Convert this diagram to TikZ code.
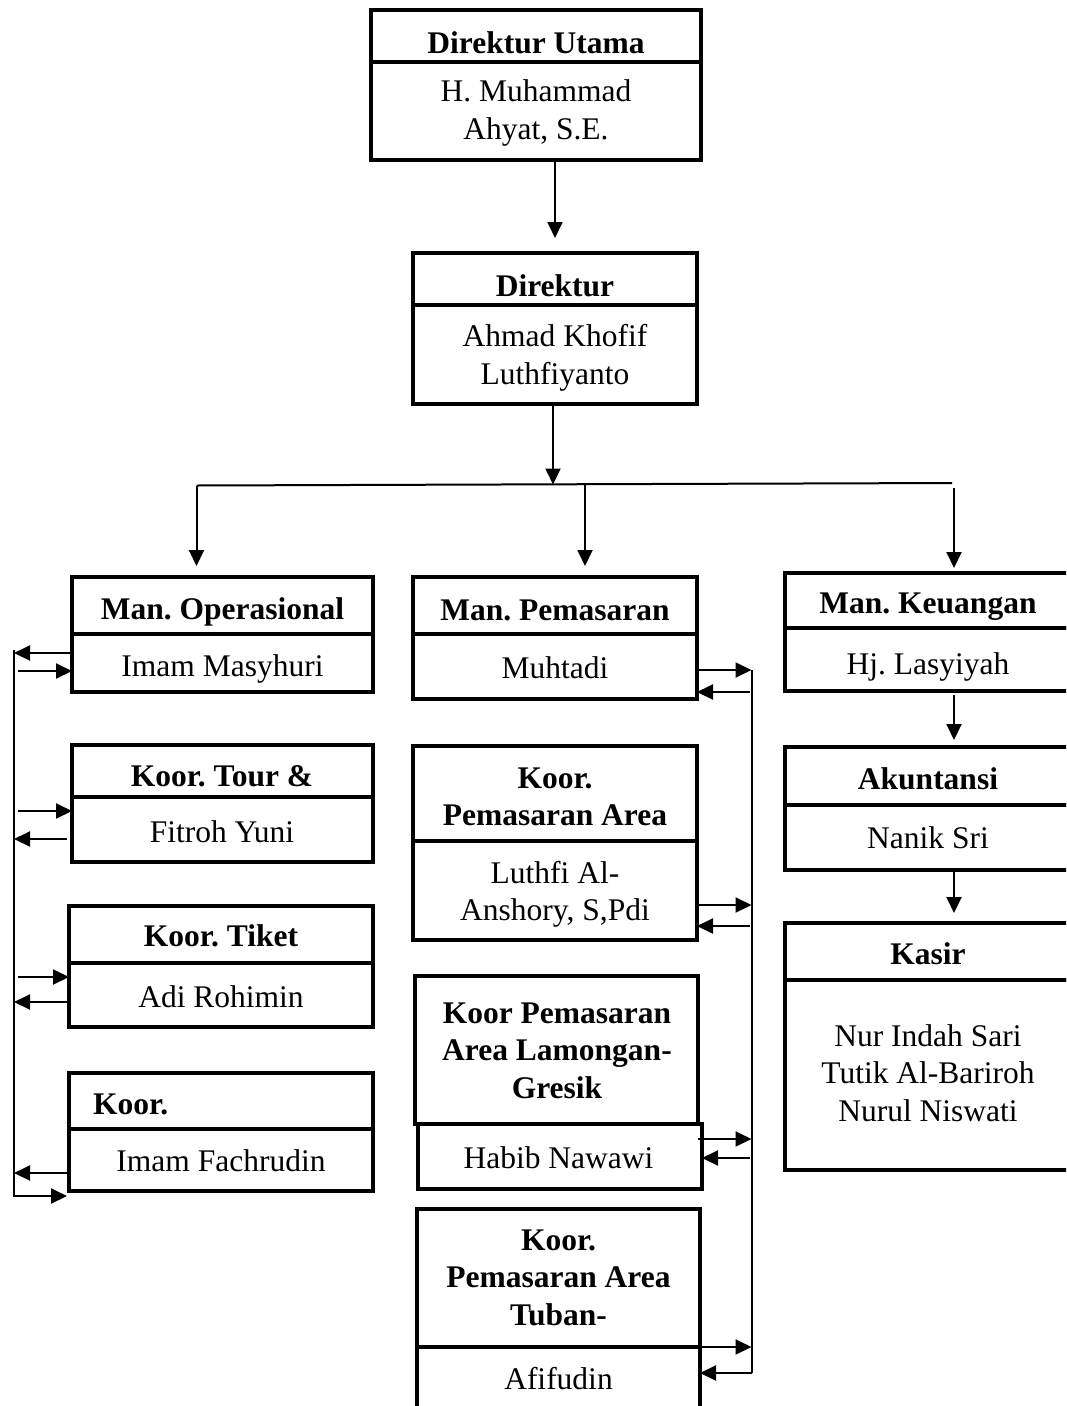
\documentclass[tikz,border=0pt]{standalone}
\usepackage{fontspec}
\setmainfont{Liberation Serif}
\usetikzlibrary{arrows.meta}
\frenchspacing
\newcommand\mlines[1]{\begin{tabular}[t]{@{}c@{}}#1\end{tabular}}
\begin{document}
\begin{tikzpicture}[x=1pt,y=-1pt,
  frame/.style={draw, line width=4pt, inner sep=0pt, outer sep=0pt, rectangle},
  ttl/.style={font=\fontsize{31.5}{37.5}\selectfont\bfseries, anchor=base, inner sep=0pt},
  nm/.style={font=\fontsize{31.5}{37.5}\selectfont, anchor=base, inner sep=0pt},
  arr/.style={line width=2pt, -{Triangle[length=16pt,width=15pt]}},
  bus/.style={line width=2pt}]
\clip (0,0) rectangle (1066,1406);
\fill[white] (0,0) rectangle (1066,1406);

% ---------- Direktur Utama
\node[frame, minimum width=330pt, minimum height=52pt] (du-t) at (536,36) {};
\node[frame, minimum width=330pt, minimum height=98pt] (du-b) at (536,111) {};
\node[ttl] (du-tt) at (536,53) {Direktur Utama};
\node[nm] (du-bt) at (536,101.7) {\mlines{H. Muhammad\\Ahyat, S.E.}};

% ---------- Direktur
\node[frame, minimum width=284pt, minimum height=52pt] (d-t) at (555,279) {};
\node[frame, minimum width=284pt, minimum height=99pt] (d-b) at (555,354.5) {};
\node[ttl] (d-tt) at (555,296) {Direktur};
\node[nm] (d-bt) at (555,346.7) {\mlines{Ahmad Khofif\\Luthfiyanto}};

% ---------- left column
\node[frame, minimum width=301pt, minimum height=57pt] (mo-t) at (222.5,605.5) {};
\node[frame, minimum width=301pt, minimum height=58pt] (mo-b) at (222.5,663) {};
\node[ttl] (mo-tt) at (222.5,619) {Man. Operasional};
\node[nm] (mo-bt) at (222.5,676) {Imam Masyhuri};

\node[frame, minimum width=301pt, minimum height=52pt] (kt-t) at (222.5,771) {};
\node[frame, minimum width=301pt, minimum height=65pt] (kt-b) at (222.5,829.5) {};
\node[ttl] (kt-tt) at (222,786) {Koor. Tour \&};
\node[nm] (kt-bt) at (222,842) {Fitroh Yuni};

\node[frame, minimum width=304pt, minimum height=57pt] (ki-t) at (221,934.5) {};
\node[frame, minimum width=304pt, minimum height=64pt] (ki-b) at (221,995) {};
\node[ttl] (ki-tt) at (221,946) {Koor. Tiket};
\node[nm] (ki-bt) at (221,1007) {Adi Rohimin};

\node[frame, minimum width=304pt, minimum height=56pt] (kf-t) at (221,1101) {};
\node[frame, minimum width=304pt, minimum height=62pt] (kf-b) at (221,1160) {};
\node[ttl, anchor=base west] (kf-tt) at (93,1114) {Koor.};
\node[nm] (kf-bt) at (221,1171) {Imam Fachrudin};

% ---------- middle column
\node[frame, minimum width=284pt, minimum height=57pt] (mp-t) at (555,605.5) {};
\node[frame, minimum width=284pt, minimum height=65pt] (mp-b) at (555,666.5) {};
\node[ttl] (mp-tt) at (555,620) {Man. Pemasaran};
\node[nm] (mp-bt) at (555,678) {Muhtadi};

\node[frame, minimum width=284pt, minimum height=95pt] (pa-t) at (555,793.5) {};
\node[frame, minimum width=284pt, minimum height=99pt] (pa-b) at (555,890.5) {};
\node[ttl] (pa-tt) at (555,788) {\mlines{Koor.\\Pemasaran Area}};
\node[nm] (pa-bt) at (555,883) {\mlines{Luthfi Al-\\Anshory, S,Pdi}};

\node[frame, minimum width=283pt, minimum height=148pt] (pl-t) at (556.5,1050) {};
\node[frame, minimum width=284pt, minimum height=65pt] (pl-b) at (560,1156.5) {};
\node[ttl] (pl-tt) at (557,1023) {\mlines{Koor Pemasaran\\Area Lamongan-\\Gresik}};
\node[nm] (pl-bt) at (558.5,1168) {Habib Nawawi};

\node[frame, minimum width=283pt, minimum height=138pt] (pt-t) at (558.5,1278) {};
\node[frame, minimum width=283pt, minimum height=73pt] (pt-b) at (558.5,1383.5) {};
\node[ttl] (pt-tt) at (558.5,1250) {\mlines{Koor.\\Pemasaran Area\\Tuban-}};
\node[nm] (pt-bt) at (558.5,1389) {Afifudin};

% ---------- right column
\node[frame, minimum width=286pt, minimum height=55pt] (mk-t) at (928,600.5) {};
\node[frame, minimum width=286pt, minimum height=63pt] (mk-b) at (928,659.5) {};
\node[ttl] (mk-tt) at (928,613) {Man. Keuangan};
\node[nm] (mk-bt) at (928,674) {Hj. Lasyiyah};

\node[frame, minimum width=286pt, minimum height=58pt] (ak-t) at (928,776) {};
\node[frame, minimum width=286pt, minimum height=65pt] (ak-b) at (928,837.5) {};
\node[ttl] (ak-tt) at (928,789) {Akuntansi};
\node[nm] (ak-bt) at (928,848) {Nanik Sri};

\node[frame, minimum width=286pt, minimum height=57pt] (ks-t) at (928,951.5) {};
\node[frame, minimum width=286pt, minimum height=190pt] (ks-b) at (928,1075) {};
\node[ttl] (ks-tt) at (928,964) {Kasir};
\node[nm] (ks-bt) at (928,1046) {\mlines{Nur Indah Sari\\Tutik Al-Bariroh\\Nurul Niswati}};

% ---------- top connectors
\draw[arr, shorten >=15pt] (d-t.north |- du-b.south) -- (d-t.north);
\coordinate (jn) at (553,484.5);
\draw[arr] (d-b.south -| jn) -- (jn);
\coordinate (hl) at (196.5,485.5);
\coordinate (hr) at (952,483);
\draw[bus] (hl) -- (hr);
\draw[arr, shorten >=11pt] (hl) -- (hl |- mo-t.north);
\coordinate (hm) at (585,484.5);
\draw[arr, shorten >=11pt] (hm) -- (hm |- mp-t.north);
\coordinate (hk) at (954,488);
\draw[arr, shorten >=5pt] (hk) -- (hk |- mk-t.north);
\draw[arr, shorten <=4pt, shorten >=7pt] (hk |- mk-b.south) -- (hk |- ak-t.north);
\draw[arr, shorten >=10pt] (hk |- ak-b.south) -- (hk |- ks-t.north);

% ---------- left bus
\coordinate (lbt) at (14,650);
\coordinate (lbb) at (14,1197);
\draw[bus, line width=1.6pt] (lbt) -- (lbb);
\draw[arr] (mo-b.west |- 0,653) -- (lbt |- 0,653);
\draw[arr, shorten <=4pt] (lbt |- 0,671) -- (mo-b.west |- 0,671);
\draw[arr, shorten <=4pt] (lbt |- 0,811) -- (kt-b.west |- 0,811);
\draw[arr, shorten <=5pt] (kt-b.west |- 0,839) -- (lbt |- 0,839);
\draw[arr, shorten <=4pt] (lbt |- 0,977) -- (ki-b.west |- 0,977);
\draw[arr, shorten <=2pt] (ki-b.west |- 0,1002) -- (lbt |- 0,1002);
\draw[arr, shorten <=2pt] (kf-b.west |- 0,1173) -- (lbt |- 0,1173);
\draw[arr, shorten >=2pt] (lbt |- 0,1196) -- (kf-b.west |- 0,1196);

% ---------- right bus
\coordinate (rbt) at (751.5,670);
\coordinate (rbb) at (751.5,1373);
\draw[bus] (rbt) -- (rbb);
\draw[arr] (mp-b.east |- 0,670) -- (rbt |- 0,670);
\draw[arr, shorten <=2pt] (rbt |- 0,692) -- (mp-b.east |- 0,692);
\draw[arr] (pa-b.east |- 0,905) -- (rbt |- 0,905);
\draw[arr, shorten <=2pt] (rbt |- 0,926) -- (pa-b.east |- 0,926);
\draw[arr] (pl-t.east |- 0,1139) -- (rbt |- 0,1139);
\draw[arr, shorten <=2pt] (rbt |- 0,1158) -- (pl-b.east |- 0,1158);
\draw[arr] (pt-b.east |- 0,1347) -- (rbt |- 0,1347);
\draw[arr] (rbb) -- (pt-b.east |- rbb);
\end{tikzpicture}
\end{document}
